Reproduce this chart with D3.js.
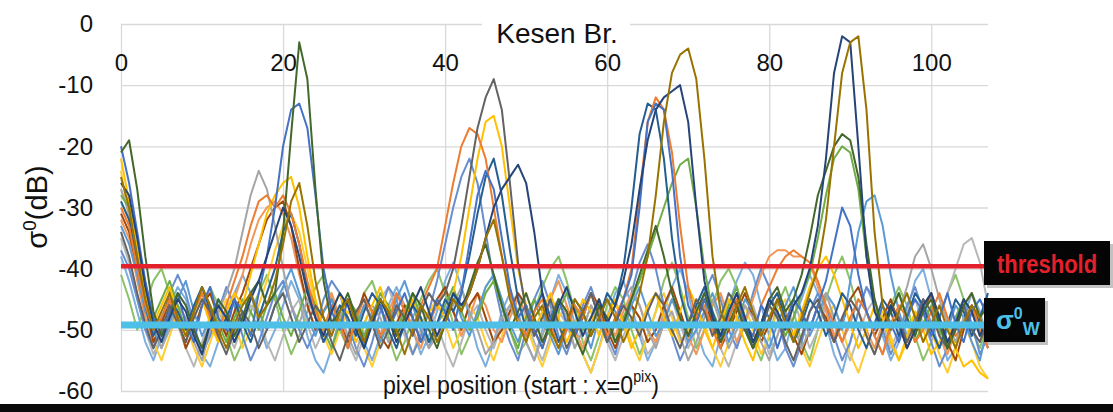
<!DOCTYPE html>
<html>
<head>
<meta charset="utf-8">
<script src="https://cdn.jsdelivr.net/npm/d3@7"></script>
<style>
  body { margin: 0; background: #fff; }
  svg { display: block; font-family: "Liberation Sans", Arial, sans-serif; }
</style>
</head>
<body>
<script>
// axis ticks
const xTicks = [0, 20, 40, 60, 80, 100];
const yTicks = [0, -10, -20, -30, -40, -50, -60];

// reference levels (dB)
const thresholdLevel = -39.6;
const sigmaWLevel = -49.2;

// sigma0 profiles along the bridge, one value per pixel position (x = 0..107)
const s1 = [
  -20,-26,-34,-42,-48,-51,-47,-44,-49,-52,-46,-43,
  -48,-50,-45,-47,-51,-44,-38,-30,-20,-14,-13,-17,
  -28,-40,-47,-50,-45,-48,-53,-49,-46,-50,-47,-44,
  -48,-52,-49,-45,-47,-50,-44,-36,-28,-24,-27,-35,
  -43,-48,-46,-50,-53,-48,-45,-49,-51,-47,-44,-48,
  -52,-49,-45,-41,-30,-16,-13,-14,-24,-38,-46,-49,
  -45,-48,-52,-47,-44,-49,-51,-46,-48,-53,-49,-45,
  -47,-50,-46,-42,-36,-30,-33,-41,-47,-50,-46,-49,
  -52,-48,-45,-47,-51,-48,-44,-49,-52,-47,-45,-48];
const s2 = [
  -30,-33,-40,-46,-50,-48,-45,-49,-52,-47,-44,-48,
  -51,-46,-42,-38,-33,-29,-28,-30,-28,-31,-36,-42,
  -47,-50,-46,-49,-53,-48,-45,-47,-51,-49,-44,-47,
  -50,-46,-43,-40,-33,-26,-20,-17,-18,-22,-30,-38,
  -44,-48,-51,-47,-45,-49,-53,-50,-46,-48,-44,-47,
  -51,-48,-45,-40,-28,-16,-12,-14,-21,-33,-43,-48,
  -46,-50,-53,-48,-45,-49,-51,-46,-43,-40,-38,-37,
  -38,-39,-42,-46,-49,-52,-48,-45,-47,-51,-54,-49,
  -46,-48,-52,-50,-47,-44,-48,-51,-49,-46,-50,-53];
const s3 = [
  -27,-31,-38,-45,-49,-53,-50,-46,-48,-52,-55,-50,
  -47,-44,-40,-34,-28,-24,-27,-33,-40,-46,-49,-45,
  -48,-52,-50,-47,-51,-54,-49,-46,-48,-52,-50,-47,
  -45,-49,-53,-51,-48,-46,-43,-47,-50,-54,-52,-48,
  -46,-49,-52,-55,-51,-47,-45,-48,-53,-50,-46,-49,
  -52,-48,-45,-43,-46,-50,-53,-49,-47,-51,-55,-52,
  -48,-45,-49,-53,-50,-46,-48,-52,-55,-51,-47,-49,
  -53,-50,-46,-44,-48,-52,-49,-45,-47,-51,-54,-50,
  -47,-43,-38,-36,-40,-45,-49,-52,-48,-46,-50,-53];
const s4 = [
  -22,-29,-37,-44,-49,-46,-43,-47,-51,-48,-45,-49,
  -52,-47,-44,-46,-41,-36,-31,-28,-26,-25,-30,-38,
  -45,-50,-47,-44,-48,-52,-49,-46,-43,-47,-51,-48,
  -45,-49,-47,-46,-48,-44,-38,-30,-22,-16,-15,-20,
  -30,-40,-46,-50,-47,-44,-48,-52,-49,-45,-47,-51,
  -48,-45,-49,-53,-50,-46,-44,-48,-51,-47,-43,-46,
  -50,-53,-49,-45,-48,-52,-55,-50,-46,-44,-48,-51,
  -47,-43,-40,-38,-41,-45,-49,-53,-50,-46,-48,-52,
  -55,-51,-47,-50,-54,-52,-49,-53,-56,-55,-57,-58];
const s5 = [
  -33,-36,-41,-47,-50,-53,-49,-45,-42,-47,-51,-48,
  -45,-49,-52,-48,-44,-47,-50,-46,-43,-40,-44,-48,
  -51,-47,-45,-49,-53,-50,-46,-48,-52,-49,-45,-42,
  -46,-50,-53,-49,-47,-44,-48,-51,-47,-43,-41,-45,
  -49,-52,-48,-45,-47,-51,-54,-50,-46,-49,-53,-48,
  -45,-47,-50,-46,-43,-47,-51,-49,-45,-48,-52,-50,
  -47,-44,-48,-52,-49,-45,-47,-50,-53,-49,-46,-43,
  -47,-51,-48,-44,-46,-50,-42,-34,-29,-28,-33,-41,
  -47,-51,-48,-45,-49,-53,-50,-46,-48,-52,-55,-49];
const s6 = [
  -28,-30,-37,-44,-48,-45,-42,-46,-50,-47,-43,-46,
  -49,-52,-48,-45,-47,-50,-46,-44,-48,-51,-47,-43,
  -46,-50,-53,-49,-45,-47,-51,-48,-44,-46,-50,-47,
  -44,-48,-52,-49,-46,-43,-47,-50,-48,-44,-42,-46,
  -50,-53,-48,-45,-49,-51,-47,-44,-46,-50,-48,-45,
  -49,-52,-48,-45,-42,-38,-34,-30,-26,-23,-22,-30,
  -40,-47,-50,-46,-43,-48,-52,-49,-45,-47,-51,-48,
  -44,-41,-35,-28,-22,-20,-21,-27,-38,-46,-50,-47,
  -44,-48,-52,-49,-46,-50,-53,-48,-45,-47,-51,-49];
const s7 = [
  -26,-28,-35,-43,-49,-52,-48,-45,-47,-51,-54,-49,
  -46,-48,-52,-49,-45,-42,-38,-34,-30,-33,-38,-44,
  -48,-51,-47,-44,-46,-50,-53,-49,-45,-48,-52,-49,
  -46,-43,-47,-51,-48,-44,-46,-44,-40,-35,-30,-27,
  -25,-23,-26,-34,-44,-50,-46,-43,-47,-51,-48,-45,
  -49,-46,-42,-36,-27,-19,-14,-12,-11,-10,-16,-30,
  -42,-48,-51,-47,-44,-48,-52,-49,-45,-47,-50,-46,
  -44,-40,-33,-22,-8,-2,-3,-20,-38,-47,-50,-46,
  -49,-53,-50,-46,-44,-48,-52,-49,-45,-47,-51,-48];
const s8 = [
  -31,-34,-40,-46,-52,-49,-45,-48,-53,-50,-46,-44,
  -48,-51,-47,-44,-40,-36,-32,-30,-29,-33,-40,-46,
  -50,-47,-45,-49,-52,-48,-44,-47,-51,-53,-49,-46,
  -48,-52,-49,-45,-43,-47,-50,-46,-44,-48,-52,-50,
  -47,-44,-46,-50,-53,-49,-45,-47,-51,-48,-44,-46,
  -50,-53,-49,-46,-48,-52,-50,-46,-43,-47,-51,-48,
  -45,-49,-53,-50,-47,-44,-48,-52,-49,-45,-47,-51,
  -54,-50,-46,-48,-52,-49,-45,-43,-47,-51,-48,-45,
  -49,-53,-50,-47,-44,-48,-52,-55,-50,-46,-49,-53];
const s9 = [
  -34,-38,-44,-49,-53,-50,-46,-49,-52,-48,-45,-47,
  -51,-54,-50,-47,-49,-53,-50,-46,-44,-48,-52,-49,
  -46,-48,-52,-55,-51,-47,-45,-49,-53,-50,-46,-48,
  -51,-47,-44,-46,-44,-40,-33,-25,-17,-12,-9,-14,
  -26,-39,-47,-51,-48,-45,-49,-53,-50,-47,-44,-48,
  -52,-49,-46,-48,-51,-47,-44,-46,-50,-53,-49,-45,
  -47,-51,-48,-44,-46,-50,-53,-49,-46,-48,-52,-55,
  -51,-47,-45,-49,-52,-48,-45,-47,-51,-54,-50,-46,
  -48,-52,-49,-45,-47,-51,-53,-49,-46,-50,-52,-48];
const s10 = [
  -25,-30,-38,-45,-50,-47,-44,-48,-51,-47,-43,-46,
  -50,-53,-49,-46,-44,-48,-46,-42,-36,-29,-26,-33,
  -42,-48,-51,-47,-45,-49,-52,-48,-45,-47,-50,-54,
  -50,-46,-48,-52,-49,-45,-47,-44,-40,-35,-32,-38,
  -45,-49,-52,-48,-46,-50,-53,-49,-45,-47,-51,-48,
  -45,-48,-52,-49,-44,-38,-28,-16,-8,-5,-4,-9,
  -22,-38,-47,-50,-46,-43,-47,-51,-48,-45,-49,-52,
  -48,-44,-40,-32,-20,-8,-3,-2,-14,-34,-46,-50,
  -47,-44,-48,-52,-49,-46,-50,-53,-49,-46,-48,-52];
const s11 = [
  -29,-32,-39,-46,-51,-48,-45,-47,-50,-46,-43,-47,
  -51,-48,-45,-49,-52,-48,-44,-40,-34,-31,-36,-43,
  -48,-52,-49,-46,-48,-51,-47,-44,-46,-50,-53,-49,
  -46,-48,-52,-49,-45,-47,-44,-38,-31,-25,-22,-28,
  -37,-45,-50,-47,-44,-48,-52,-49,-45,-47,-51,-48,
  -44,-46,-40,-30,-18,-13,-14,-22,-35,-44,-49,-46,
  -43,-47,-51,-48,-45,-49,-53,-50,-46,-44,-48,-52,
  -49,-45,-47,-51,-48,-44,-46,-50,-53,-49,-45,-47,
  -51,-48,-44,-46,-50,-53,-49,-45,-47,-51,-48,-44];
const s12 = [
  -21,-19,-27,-38,-47,-51,-48,-44,-46,-50,-53,-49,
  -45,-47,-51,-48,-44,-42,-46,-44,-34,-18,-3,-9,
  -27,-42,-49,-47,-44,-48,-52,-49,-45,-47,-51,-48,
  -44,-46,-50,-53,-49,-45,-47,-43,-39,-36,-41,-46,
  -50,-47,-44,-48,-52,-49,-45,-47,-51,-54,-50,-46,
  -48,-52,-49,-45,-41,-37,-33,-38,-44,-48,-51,-47,
  -44,-48,-52,-49,-46,-50,-53,-49,-45,-43,-47,-45,
  -41,-35,-28,-24,-20,-18,-19,-25,-36,-45,-50,-47,
  -44,-48,-51,-47,-45,-49,-53,-50,-46,-44,-48,-46];
const s13 = [
  -37,-40,-45,-50,-53,-49,-44,-41,-44,-49,-54,-51,
  -47,-43,-46,-51,-55,-52,-48,-44,-42,-46,-50,-53,
  -50,-45,-42,-44,-49,-53,-56,-52,-47,-43,-45,-50,
  -54,-51,-47,-42,-36,-30,-25,-22,-26,-34,-42,-48,
  -52,-55,-50,-45,-42,-46,-51,-54,-50,-46,-43,-47,
  -51,-54,-49,-44,-39,-36,-40,-46,-51,-55,-52,-48,
  -44,-41,-45,-50,-53,-49,-44,-40,-43,-48,-53,-56,
  -52,-47,-44,-46,-51,-55,-52,-47,-43,-45,-50,-54,
  -51,-46,-43,-47,-52,-56,-53,-48,-45,-49,-54,-51];
const s14 = [
  -32,-35,-42,-48,-52,-49,-45,-48,-51,-47,-44,-48,
  -52,-49,-45,-41,-36,-32,-30,-29,-31,-35,-41,-46,
  -50,-47,-44,-48,-52,-49,-46,-48,-51,-47,-44,-46,
  -50,-53,-49,-46,-43,-47,-51,-48,-44,-46,-50,-52,
  -48,-45,-47,-51,-49,-45,-42,-46,-50,-53,-49,-46,
  -48,-51,-47,-44,-46,-50,-52,-48,-45,-47,-51,-54,
  -50,-46,-44,-48,-52,-49,-45,-41,-38,-37,-37,-38,
  -38,-39,-43,-47,-51,-48,-45,-47,-50,-53,-49,-46,
  -48,-52,-49,-45,-47,-51,-54,-50,-46,-44,-48,-51];
const s15 = [
  -35,-39,-45,-50,-54,-51,-47,-49,-53,-56,-52,-48,
  -46,-50,-53,-49,-46,-48,-52,-55,-51,-47,-45,-49,
  -53,-50,-46,-48,-52,-55,-51,-47,-45,-43,-47,-51,
  -54,-50,-47,-49,-53,-56,-52,-48,-46,-50,-53,-49,
  -46,-44,-48,-52,-55,-51,-47,-49,-53,-50,-46,-48,
  -52,-55,-51,-48,-50,-54,-52,-48,-45,-49,-53,-50,
  -47,-49,-53,-56,-52,-48,-46,-50,-54,-51,-47,-45,
  -49,-53,-50,-46,-48,-52,-55,-51,-47,-45,-49,-53,
  -50,-47,-45,-49,-52,-48,-44,-40,-36,-35,-39,-46];
const s16 = [
  -24,-32,-41,-47,-52,-55,-51,-47,-49,-53,-56,-52,
  -48,-45,-49,-53,-50,-46,-42,-37,-33,-31,-34,-40,
  -46,-51,-54,-50,-47,-49,-53,-56,-52,-48,-46,-50,
  -54,-51,-47,-45,-49,-53,-50,-46,-48,-52,-55,-51,
  -47,-45,-49,-53,-56,-52,-48,-46,-50,-54,-57,-53,
  -49,-46,-48,-52,-55,-51,-47,-44,-48,-52,-50,-46,
  -49,-53,-56,-52,-48,-46,-50,-54,-51,-47,-45,-49,
  -53,-56,-52,-48,-46,-50,-54,-57,-53,-49,-47,-51,
  -55,-52,-48,-46,-50,-54,-57,-53,-49,-52,-56,-58];
const s17 = [
  -38,-42,-47,-52,-55,-51,-46,-43,-45,-50,-54,-56,
  -52,-47,-44,-41,-44,-49,-53,-50,-46,-42,-45,-51,
  -55,-57,-53,-48,-45,-47,-52,-55,-51,-46,-43,-46,
  -50,-54,-51,-47,-42,-39,-43,-48,-53,-56,-52,-47,
  -44,-47,-52,-55,-50,-45,-41,-44,-49,-54,-57,-53,
  -48,-44,-42,-46,-51,-55,-52,-47,-43,-40,-44,-50,
  -54,-56,-51,-46,-42,-39,-41,-46,-51,-55,-53,-48,
  -45,-41,-44,-49,-54,-57,-52,-47,-43,-46,-51,-55,
  -52,-47,-42,-40,-45,-50,-55,-53,-48,-44,-47,-52];
const s18 = [
  -41,-45,-50,-46,-42,-40,-44,-49,-53,-50,-46,-43,
  -46,-51,-55,-52,-47,-44,-41,-45,-50,-54,-51,-47,
  -43,-41,-45,-50,-53,-49,-44,-42,-46,-51,-55,-52,
  -48,-45,-42,-40,-44,-49,-54,-51,-47,-43,-41,-45,
  -50,-54,-52,-47,-43,-40,-38,-42,-47,-52,-55,-51,
  -46,-43,-45,-50,-54,-51,-47,-42,-39,-43,-48,-53,
  -50,-46,-42,-40,-43,-48,-52,-55,-51,-46,-43,-47,
  -52,-55,-50,-45,-41,-38,-42,-47,-51,-54,-50,-46,
  -43,-46,-51,-55,-52,-48,-44,-41,-45,-50,-53,-49];

// drawing order (last on top) and Excel-like palette
const series = [s17, s18, s15, s16, s13, s14, s8, s5, s3, s6, s4, s11, s2, s1, s9, s12, s7, s10];
const colors = ["#7cafdd", "#8cc168", "#b7b7b7", "#ffcd33", "#698ed0", "#f1975a", "#9e480e", "#5b9bd5",
                "#a5a5a5", "#70ad47", "#ffc000", "#255e91", "#ed7d31", "#4472c4", "#636363", "#43682b", "#264478", "#997300"];

const W = 1113, H = 412;
const svg = d3.select("body").append("svg").attr("width", W).attr("height", H);

const x = d3.scaleLinear().domain([0, 107]).range([121, 988]);
const y = d3.scaleLinear().domain([-60, 0]).range([391, 24]);

// gridlines
const gridX = svg.append("g")
  .attr("transform", `translate(0,${y(0)})`)
  .call(d3.axisBottom(x).tickValues(xTicks).tickSize(y(-60) - y(0)).tickFormat(""));
const gridY = svg.append("g")
  .attr("transform", `translate(${x(0)},0)`)
  .call(d3.axisLeft(y).tickValues(yTicks).tickSize(-(x(107) - x(0))).tickPadding(28).tickFormat(d3.format("d")));
[gridX, gridY].forEach(g => {
  g.select(".domain").remove();
  g.selectAll(".tick line").attr("stroke", "#d9d9d9").attr("stroke-width", 1.3);
});
gridY.selectAll(".tick text")
  .attr("font-size", "24px").attr("fill", "#111")
  .text(d => d === 0 ? "0" : "-" + Math.abs(d));

// x labels sit inside the plot, under the top gridline
const labX = svg.append("g")
  .attr("transform", `translate(0,${y(0)})`)
  .call(d3.axisBottom(x).tickValues(xTicks).tickSize(0).tickPadding(30));
labX.select(".domain").remove();
labX.selectAll(".tick text").attr("font-size", "24px").attr("fill", "#111");

// profiles
const line = d3.line().x((d, i) => x(i)).y(d => y(d));
svg.append("g").selectAll("path")
  .data(series)
  .join("path")
  .attr("d", line)
  .attr("fill", "none")
  .attr("stroke", (d, i) => colors[i])
  .attr("stroke-width", 2)
  .attr("stroke-linejoin", "round");

// reference lines
svg.append("line")
  .attr("x1", x(0)).attr("x2", 984)
  .attr("y1", y(thresholdLevel)).attr("y2", y(thresholdLevel))
  .attr("stroke", "#e3202b").attr("stroke-width", 4.5);
svg.append("line")
  .attr("x1", x(0)).attr("x2", 984)
  .attr("y1", y(sigmaWLevel)).attr("y2", y(sigmaWLevel))
  .attr("stroke", "#4ec0e8").attr("stroke-width", 7);

// title inside top
svg.append("rect").attr("x", 482).attr("y", 12).attr("width", 148).attr("height", 28).attr("fill", "#fff");
svg.append("text")
  .attr("x", 557).attr("y", 43)
  .attr("text-anchor", "middle")
  .attr("font-size", "28px").attr("fill", "#111")
  .text("Kesen Br.");

// x axis title (one text, horizontally condensed like the source image)
const xt = svg.append("text")
  .attr("transform", "translate(383,394) scale(0.89,1)")
  .attr("font-size", "26px").attr("fill", "#111");
xt.append("tspan").text("pixel position (start : x=0");
xt.append("tspan").attr("font-size", "16px").attr("dy", -12).text("pix");
xt.append("tspan").attr("dy", 12).text(")");

// y axis title
const yt = svg.append("text")
  .attr("transform", "translate(47,207) rotate(-90)")
  .attr("text-anchor", "middle")
  .attr("font-size", "29px").attr("fill", "#111");
yt.append("tspan").text("σ");
yt.append("tspan").attr("font-size", "19px").attr("dy", -11).text("0");
yt.append("tspan").attr("dy", 11).text("(dB)");

// legend boxes
function box(x0, y0, w, h) {
  svg.append("rect").attr("x", x0 + 3).attr("y", y0 + 3).attr("width", w).attr("height", h).attr("fill", "#9a9a9a").attr("opacity", 0.6);
  svg.append("rect").attr("x", x0).attr("y", y0).attr("width", w).attr("height", h).attr("fill", "#050505");
}
box(984, 241, 126, 44);
svg.append("text")
  .attr("transform", "translate(997,273) scale(1,1.15)")
  .attr("font-size", "22px").attr("font-weight", "bold").attr("fill", "#e3202b")
  .text("threshold");

box(984, 298, 61, 44);
const sw = svg.append("text")
  .attr("x", 996).attr("y", 329)
  .attr("font-size", "26px").attr("font-weight", "bold").attr("fill", "#4ec0e8");
sw.append("tspan").text("σ");
sw.append("tspan").attr("font-size", "16px").attr("dy", -10).text("0");
sw.append("tspan").attr("font-size", "18px").attr("dy", 16).text("W");

// cropped banner at the bottom edge
svg.append("rect").attr("x", 0).attr("y", 404).attr("width", W).attr("height", 8).attr("fill", "#0a0a0a");
</script>
</body>
</html>
